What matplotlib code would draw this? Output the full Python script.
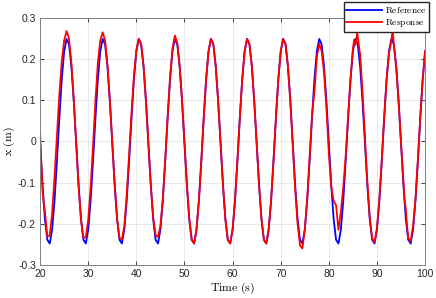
import numpy as np
import matplotlib
matplotlib.use('Agg')
import matplotlib.pyplot as plt

plt.rcParams['mathtext.fontset'] = 'cm'
plt.rcParams['font.family'] = ['Liberation Sans', 'DejaVu Sans']

# sample times (s), every 0.5 s
t = np.arange(20, 100.25, 0.5)

# reference trajectory x (m)
ref_x = [
    -0.005, -0.106, -0.189, -0.239, -0.248, -0.214, -0.143, -0.047, 0.057, 0.151, 0.219, 0.249, 0.236, 0.182, 0.097,
    -0.005, -0.106, -0.189, -0.239, -0.248, -0.214, -0.143, -0.047, 0.057, 0.151, 0.219, 0.249, 0.236, 0.182, 0.097,
    -0.005, -0.106, -0.189, -0.239, -0.248, -0.214, -0.143, -0.047, 0.057, 0.151, 0.219, 0.249, 0.236, 0.182, 0.097,
    -0.005, -0.106, -0.189, -0.239, -0.248, -0.214, -0.143, -0.047, 0.057, 0.151, 0.219, 0.249, 0.236, 0.182, 0.097,
    -0.005, -0.106, -0.189, -0.239, -0.248, -0.214, -0.143, -0.047, 0.057, 0.151, 0.219, 0.249, 0.236, 0.182, 0.097,
    -0.005, -0.106, -0.189, -0.239, -0.248, -0.214, -0.143, -0.047, 0.057, 0.151, 0.219, 0.249, 0.236, 0.182, 0.097,
    -0.005, -0.106, -0.189, -0.239, -0.248, -0.214, -0.143, -0.047, 0.057, 0.151, 0.219, 0.249, 0.236, 0.182, 0.097,
    -0.005, -0.106, -0.189, -0.239, -0.248, -0.214, -0.143, -0.047, 0.057, 0.151, 0.219, 0.249, 0.236, 0.182, 0.097,
    -0.005, -0.106, -0.189, -0.239, -0.248, -0.214, -0.143, -0.047, 0.057, 0.151, 0.219, 0.249, 0.236, 0.182, 0.097,
    -0.005, -0.106, -0.189, -0.239, -0.248, -0.214, -0.143, -0.047, 0.057, 0.151, 0.219, 0.249, 0.236, 0.182, 0.097,
    -0.005, -0.106, -0.189, -0.239, -0.248, -0.214, -0.143, -0.047, 0.057, 0.151, 0.219,
]

# measured response x (m) on the same grid
resp_x = [
    0.020, -0.120, -0.170, -0.232, -0.228, -0.175, -0.085, 0.015, 0.115, 0.195, 0.245, 0.268, 0.250, 0.190, 0.100,
    -0.005, -0.110, -0.190, -0.235, -0.232, -0.190, -0.110, -0.010, 0.100, 0.190, 0.245, 0.265, 0.245, 0.185, 0.097,
    -0.005, -0.106, -0.189, -0.235, -0.238, -0.205, -0.130, -0.030, 0.070, 0.160, 0.222, 0.249, 0.236, 0.182, 0.097,
    -0.005, -0.106, -0.185, -0.228, -0.232, -0.205, -0.140, -0.045, 0.060, 0.155, 0.225, 0.257, 0.240, 0.182, 0.097,
    -0.005, -0.106, -0.189, -0.239, -0.248, -0.214, -0.143, -0.047, 0.057, 0.151, 0.219, 0.249, 0.236, 0.182, 0.097,
    -0.005, -0.106, -0.189, -0.239, -0.248, -0.214, -0.143, -0.047, 0.057, 0.151, 0.219, 0.249, 0.236, 0.182, 0.097,
    -0.005, -0.106, -0.189, -0.239, -0.248, -0.214, -0.143, -0.047, 0.057, 0.151, 0.219, 0.249, 0.236, 0.182, 0.097,
    -0.010, -0.115, -0.200, -0.252, -0.260, -0.215, -0.140, -0.040, 0.065, 0.120, 0.205, 0.237, 0.220, 0.168, 0.080,
    -0.030, -0.110, -0.145, -0.155, -0.215, -0.170, -0.110, -0.035, 0.060, 0.150, 0.225, 0.234, 0.255, 0.210, 0.120,
    0.010, -0.100, -0.185, -0.235, -0.245, -0.210, -0.140, -0.045, 0.060, 0.150, 0.215, 0.245, 0.235, 0.180, 0.095,
    -0.005, -0.100, -0.165, -0.235, -0.243, -0.205, -0.140, -0.045, 0.060, 0.150, 0.220,
]

# extra response samples where it wiggles between grid points
resp_extra_t = [20.75, 85.25, 85.9, 93.25, 95.75, 96.25]
resp_extra_x = [-0.150, 0.247, 0.262, 0.271, -0.145, -0.205]

rt = np.concatenate([t, resp_extra_t])
rx = np.concatenate([resp_x, resp_extra_x])
order = np.argsort(rt)
rt, rx = rt[order], rx[order]

fig = plt.figure(figsize=(4.36, 2.98), dpi=100)
ax = fig.add_axes([0.092, 0.111, 0.883, 0.829])
ax.plot(t, ref_x, color=(0, 0, 1), lw=1.3, label=r'$\mathrm{Reference}$')
ax.plot(rt, rx, color=(1, 0, 0), lw=1.3, label=r'$\mathrm{Response}$')

ax.set_xlim(20, 100); ax.set_ylim(-0.3, 0.3)
ax.set_xticks(np.arange(20, 101, 10))
ax.set_yticks(np.arange(-0.3, 0.31, 0.1))
ax.set_yticklabels(['-0.3', '-0.2', '-0.1', '0', '0.1', '0.2', '0.3'])
ax.tick_params(direction='in', length=3, width=0.6, labelsize=7.5, colors='#262626',
               top=True, right=True, pad=3)
for s in ax.spines.values():
    s.set_color('#808080'); s.set_linewidth(0.7)
ax.grid(True, color='#e6e6e6', lw=0.6)
ax.set_axisbelow(True)
ax.set_xlabel(r'$\mathrm{Time\ (s)}$', fontsize=8.5, labelpad=1.5)
ax.set_ylabel(r'$\mathrm{x\ (m)}$', fontsize=8.5, labelpad=1)

fig.legend(loc='upper right', bbox_to_anchor=(0.985, 0.992), fontsize=6.8,
           frameon=True, fancybox=False, edgecolor='#262626', framealpha=1,
           handlelength=3.8, borderpad=0.3, labelspacing=0.2, handletextpad=0.3,
           borderaxespad=0)
fig.savefig('out.png', dpi=100)
